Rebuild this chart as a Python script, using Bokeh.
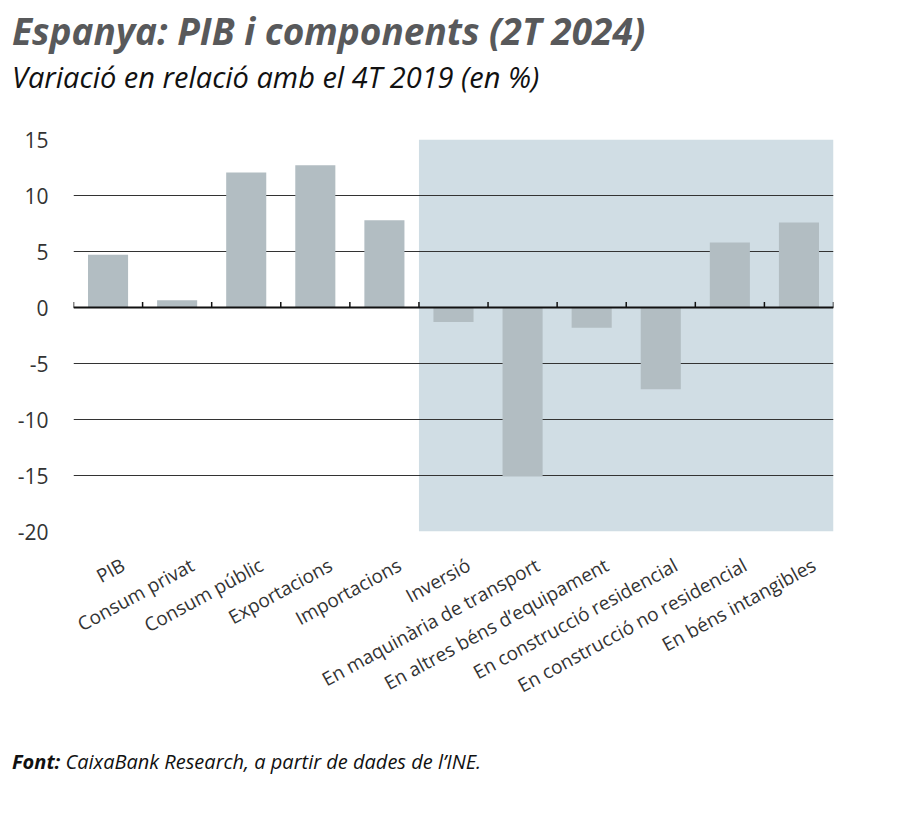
from bokeh.plotting import figure
from bokeh.models import FixedTicker, Range1d, Span, Div
from bokeh.layouts import column
from bokeh.embed import file_html
from bokeh.resources import INLINE

# ---- data ----
categories = ["PIB", "Consum privat", "Consum públic", "Exportacions", "Importacions",
              "Inversió", "En maquinària de transport", "En altres béns d’equipament",
              "En construcció residencial", "En construcció no residencial",
              "En béns intangibles"]
values = [4.7, 0.65, 12.05, 12.7, 7.8, -1.3, -15.1, -1.8, -7.3, 5.8, 7.6]
y_ticks = [15, 10, 5, 0, -5, -10, -15, -20]
y_tick_labels = ["15", "10", "5", "0", "-5", "-10", "-15", "-20"]
shaded_from = "Inversió"

title = "Espanya: PIB i components (2T 2024)"
subtitle = "Variació en relació amb el 4T 2019 (en %)"
source_bold = "Font:"
source_rest = "CaixaBank Research, a partir de dades de l’INE."

# ---- layout ----
W = 900
HEAD_H, FIG_H, FOOT_H = 110, 630, 85
BL, BT, BR, BB = 73, 29, 67, 209
FONT = "Open Sans"
LABEL_SHIFT = 0.22  # shift of rotated category labels (in category widths)

n = len(categories)
y_min, y_max = min(y_ticks), max(y_ticks)

p = figure(width=W, height=FIG_H, x_range=Range1d(0, n), y_range=Range1d(y_min, y_max),
           output_backend="svg", toolbar_location=None,
           min_border_left=BL, min_border_top=BT, min_border_right=BR, min_border_bottom=BB)
p.outline_line_color = None
p.background_fill_color = "white"
p.xgrid.visible = False
p.ygrid.ticker = FixedTicker(ticks=y_ticks)
p.ygrid.grid_line_color = "#333333"
p.ygrid.grid_line_width = 1

# shaded region (investment breakdown)
idx = categories.index(shaded_from)
p.quad(left=[idx], right=[n], bottom=[y_min], top=[y_max],
       fill_color="#d0dde4", line_color=None, level="underlay")

xs = [i + 0.5 for i in range(n)]
p.vbar(x=xs, top=values, bottom=0, width=0.58, fill_color="#b2bdc2", line_color=None)

p.add_layout(Span(location=0, dimension="width", line_color="#111111", line_width=2))
bounds = list(range(n + 1))
p.segment(x0=bounds, y0=[0] * len(bounds), x1=bounds, y1=[0.5] * len(bounds),
          line_color="#111111", line_width=1.5)

# y axis
p.yaxis.ticker = FixedTicker(ticks=y_ticks)
p.yaxis.major_label_overrides = dict(zip(y_ticks, y_tick_labels))
p.yaxis.axis_line_color = None
p.yaxis.major_tick_line_color = None
p.yaxis.minor_tick_line_color = None
p.yaxis.major_label_standoff = 19
p.yaxis.major_label_text_font = FONT
p.yaxis.major_label_text_font_size = "21px"
p.yaxis.major_label_text_color = "#333333"

# x axis
label_pos = [x + LABEL_SHIFT for x in xs]
p.xaxis.ticker = FixedTicker(ticks=label_pos)
p.xaxis.major_label_overrides = dict(zip(label_pos, categories))
p.xaxis.axis_line_color = None
p.xaxis.major_tick_line_color = None
p.xaxis.minor_tick_line_color = None
p.xaxis.major_label_orientation = 0.5
p.xaxis.major_label_standoff = 26
p.xaxis.major_label_text_font = FONT
p.xaxis.major_label_text_font_size = "19px"
p.xaxis.major_label_text_color = "#333333"

span_css = "position:absolute; left:12px; white-space:nowrap; line-height:1; font-family:'{f}';".format(f=FONT)
head_html = (
    '<div style="position:relative; width:{w}px; height:{h}px;">'
    '<span style="{base} top:12px; font-size:37px; font-weight:bold; font-style:italic; '
    'color:#58595b;">{t}</span>'
    '<span style="{base} top:62px; font-size:29px; font-style:italic; color:#111111;">{s}</span>'
    '</div>'
).format(w=W, h=HEAD_H, base=span_css, t=title, s=subtitle)
foot_html = (
    '<div style="position:relative; width:{w}px; height:{h}px;">'
    '<span style="{base} top:12px; font-size:20px; font-style:italic; color:#111111;">'
    '<b>{b}</b> {r}</span></div>'
).format(w=W, h=FOOT_H, base=span_css, b=source_bold, r=source_rest)

head = Div(text=head_html, width=W, height=HEAD_H, margin=(0, 0, 0, 0))
foot = Div(text=foot_html, width=W, height=FOOT_H, margin=(0, 0, 0, 0))
p.margin = (0, 0, 0, 0)

layout = column(head, p, foot, spacing=0)
open("out.html", "w").write(file_html(layout, INLINE))
